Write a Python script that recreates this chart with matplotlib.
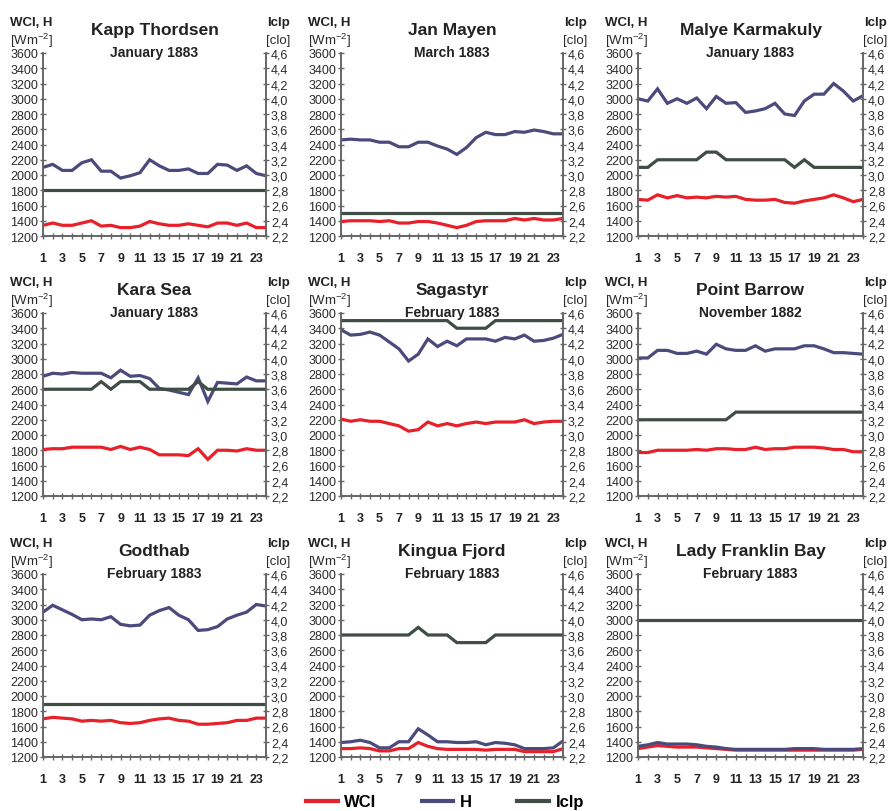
import matplotlib
matplotlib.use("Agg")
import matplotlib.pyplot as plt
from matplotlib.lines import Line2D
import numpy as np

plt.rcParams['font.family'] = ['Liberation Sans', 'DejaVu Sans']
plt.rcParams['mathtext.default'] = 'regular'

hours = np.arange(1, 25)

stations = ["Kapp Thordsen", "Jan Mayen", "Malye Karmakuly",
            "Kara Sea", "Sagastyr", "Point Barrow",
            "Godthab", "Kingua Fjord", "Lady Franklin Bay"]
months = ["January 1883", "March 1883", "January 1883",
          "January 1883", "February 1883", "November 1882",
          "February 1883", "February 1883", "February 1883"]

# WCI [W m-2]
wci = [
    [1340, 1370, 1340, 1340, 1370, 1400, 1330, 1340, 1310, 1310, 1330, 1390,
     1360, 1340, 1340, 1360, 1340, 1320, 1370, 1370, 1340, 1370, 1310, 1310],
    [1390, 1400, 1400, 1400, 1390, 1400, 1370, 1370, 1390, 1390, 1370, 1340,
     1310, 1340, 1390, 1400, 1400, 1400, 1430, 1410, 1430, 1410, 1410, 1430],
    [1680, 1670, 1740, 1700, 1730, 1700, 1710, 1700, 1720, 1710, 1720, 1680,
     1670, 1670, 1680, 1640, 1630, 1660, 1680, 1700, 1740, 1700, 1650, 1680],
    [1810, 1820, 1820, 1840, 1840, 1840, 1840, 1810, 1850, 1810, 1840, 1810,
     1740, 1740, 1740, 1730, 1820, 1680, 1800, 1800, 1790, 1820, 1800, 1800],
    [2210, 2180, 2200, 2180, 2180, 2150, 2120, 2050, 2070, 2170, 2120, 2150,
     2120, 2150, 2170, 2150, 2170, 2170, 2170, 2200, 2150, 2170, 2180, 2180],
    [1770, 1770, 1800, 1800, 1800, 1800, 1810, 1800, 1820, 1820, 1810, 1810,
     1840, 1810, 1820, 1820, 1840, 1840, 1840, 1830, 1810, 1810, 1780, 1780],
    [1700, 1720, 1710, 1700, 1670, 1680, 1670, 1680, 1650, 1640, 1650, 1680,
     1700, 1710, 1680, 1670, 1630, 1630, 1640, 1650, 1680, 1680, 1710, 1710],
    [1310, 1310, 1320, 1310, 1280, 1280, 1310, 1310, 1390, 1340, 1310, 1300,
     1300, 1300, 1300, 1290, 1300, 1300, 1300, 1270, 1270, 1270, 1270, 1310],
    [1310, 1330, 1350, 1340, 1330, 1330, 1330, 1320, 1310, 1300, 1290, 1290,
     1290, 1290, 1290, 1290, 1290, 1290, 1290, 1290, 1290, 1290, 1290, 1300],
]

# H [W m-2]
heat = [
    [2100, 2140, 2060, 2060, 2160, 2200, 2050, 2050, 1960, 1990, 2030, 2200,
     2120, 2060, 2060, 2080, 2020, 2020, 2140, 2130, 2060, 2120, 2020, 1990],
    [2460, 2470, 2460, 2460, 2430, 2430, 2370, 2370, 2430, 2430, 2380, 2340,
     2270, 2360, 2490, 2560, 2530, 2530, 2570, 2560, 2590, 2570, 2540, 2540],
    [3000, 2970, 3130, 2940, 3000, 2940, 3010, 2870, 3030, 2940, 2950, 2820,
     2840, 2870, 2940, 2800, 2780, 2970, 3060, 3060, 3200, 3100, 2970, 3040],
    [2770, 2810, 2800, 2820, 2810, 2810, 2810, 2750, 2850, 2770, 2780, 2740,
     2610, 2590, 2560, 2530, 2750, 2440, 2690, 2680, 2670, 2760, 2710, 2710],
    [3380, 3310, 3320, 3350, 3310, 3220, 3130, 2970, 3060, 3260, 3160, 3230,
     3170, 3260, 3260, 3260, 3230, 3280, 3260, 3310, 3230, 3240, 3270, 3320],
    [3010, 3010, 3110, 3110, 3070, 3070, 3100, 3060, 3190, 3130, 3110, 3110,
     3170, 3100, 3130, 3130, 3130, 3170, 3170, 3130, 3080, 3080, 3070, 3060],
    [3100, 3190, 3130, 3070, 3000, 3010, 3000, 3040, 2940, 2920, 2930, 3060,
     3120, 3160, 3060, 3000, 2860, 2870, 2910, 3010, 3060, 3100, 3200, 3180],
    [1390, 1400, 1420, 1390, 1320, 1320, 1400, 1400, 1570, 1490, 1400, 1400,
     1390, 1390, 1400, 1360, 1390, 1380, 1360, 1310, 1310, 1310, 1320, 1410],
    [1340, 1360, 1390, 1370, 1370, 1370, 1360, 1340, 1330, 1310, 1300, 1300,
     1300, 1300, 1300, 1300, 1310, 1310, 1310, 1300, 1300, 1300, 1300, 1310],
]

# Iclp [clo]
iclp = [
    [2.8] * 24,
    [2.5] * 24,
    [3.1, 3.1, 3.2, 3.2, 3.2, 3.2, 3.2, 3.3, 3.3, 3.2, 3.2, 3.2,
     3.2, 3.2, 3.2, 3.2, 3.1, 3.2, 3.1, 3.1, 3.1, 3.1, 3.1, 3.1],
    [3.6, 3.6, 3.6, 3.6, 3.6, 3.6, 3.7, 3.6, 3.7, 3.7, 3.7, 3.6,
     3.6, 3.6, 3.6, 3.6, 3.7, 3.6, 3.6, 3.6, 3.6, 3.6, 3.6, 3.6],
    [4.5] * 12 + [4.4] * 4 + [4.5] * 8,
    [3.2] * 10 + [3.3] * 14,
    [2.9] * 24,
    [3.8] * 8 + [3.9] + [3.8] * 3 + [3.7] * 4 + [3.8] * 8,
    [4.0] * 24,
]

c_wci = "#e8202a"
c_h = "#4b4a7c"
c_iclp = "#3f4d44"
spine_c = "#666666"
txt_c = "#2a2a2a"

fig = plt.figure(figsize=(8.9, 8.12), dpi=100)

lefts = [43, 341, 638]
widths = [223, 222, 225]
tops = [54, 314, 575]
H_PX = 183

for i in range(9):
    r, c = divmod(i, 3)
    ax = fig.add_axes([lefts[c] / 890, 1 - (tops[r] + H_PX) / 812,
                       widths[c] / 890, H_PX / 812])
    ax2 = ax.twinx()
    ax.plot(hours, wci[i], color=c_wci, lw=2.3, solid_joinstyle='miter', zorder=3)
    ax.plot(hours, heat[i], color=c_h, lw=2.3, solid_joinstyle='miter', zorder=4)
    ax2.plot(hours, iclp[i], color=c_iclp, lw=2.3, solid_joinstyle='miter')

    ax.set_xlim(1, 24)
    ax.set_ylim(1200, 3600)
    ax2.set_ylim(2.2, 4.6)
    ax.set_yticks(np.arange(1200, 3601, 200))
    ax2.set_yticks(np.arange(2.2, 4.61, 0.2))
    ax2.set_yticklabels([f"{v:.1f}".replace(".", ",") for v in np.arange(2.2, 4.61, 0.2)])
    ax.set_xticks(hours)
    ax.set_xticklabels([str(h) if h % 2 == 1 else "" for h in hours],
                       fontweight='bold')

    for a in (ax, ax2):
        a.spines['top'].set_visible(False)
        for s in ('left', 'right', 'bottom'):
            a.spines[s].set_color(spine_c)
            a.spines[s].set_linewidth(1.2)
        a.tick_params(direction='inout', length=5, width=1, color=spine_c,
                      labelsize=9, labelcolor=txt_c, pad=1)
    ax.tick_params(axis='x', pad=9, labelcolor='#222222')

    ax.text(0.5, 1.13, stations[i], transform=ax.transAxes, ha='center',
            va='center', fontsize=12.5, fontweight='bold', color='#222222')
    ax.text(0.5, 1.005, months[i], transform=ax.transAxes, ha='center',
            va='center', fontsize=10, fontweight='bold', color='#222222')
    ax.text(-0.148, 1.17, "WCI, H", transform=ax.transAxes, ha='left',
            va='center', fontsize=9.5, fontweight='bold', color='#222222')
    ax.text(-0.148, 1.07, "[Wm$^{-2}$]", transform=ax.transAxes, ha='left',
            va='center', fontsize=9.5, color=txt_c)
    ax.text(1.108, 1.17, "Iclp", transform=ax.transAxes, ha='right',
            va='center', fontsize=9.5, fontweight='bold', color='#222222')
    ax.text(1.108, 1.07, "[clo]", transform=ax.transAxes, ha='right',
            va='center', fontsize=9.5, color=txt_c)

handles = [Line2D([], [], color=c_wci, lw=3),
           Line2D([], [], color=c_h, lw=3),
           Line2D([], [], color=c_iclp, lw=3)]
fig.legend(handles, ["WCI", "H", "Iclp"], loc='center',
           bbox_to_anchor=(0.5, 1 - 803 / 812), ncol=3, frameon=False,
           prop={'weight': 'bold', 'size': 12}, handlelength=1.9,
           columnspacing=2.7, handletextpad=0.4)

fig.savefig("out.png", dpi=100)
